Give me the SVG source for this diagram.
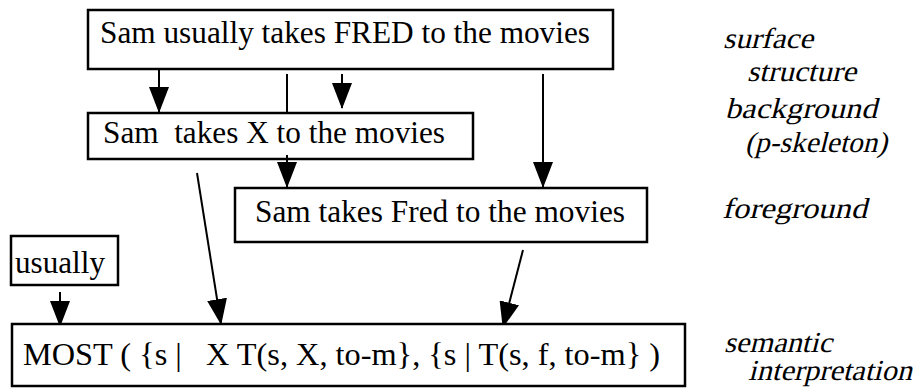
<svg xmlns="http://www.w3.org/2000/svg" width="916" height="390" viewBox="0 0 916 390">
<style>
.box{fill:#fff;stroke:#000;stroke-width:2.5}
.t{font-family:"Liberation Serif","Times New Roman",serif;font-size:31.5px;fill:#000;white-space:pre}
.it{font-family:"Liberation Serif","Times New Roman",serif;font-size:29px;fill:#000;white-space:pre}
.ln{stroke:#000;stroke-width:2;fill:none}
.ar{stroke:#000;stroke-width:2;fill:none;marker-end:url(#ah)}
</style>
<defs>
<marker id="ah" markerUnits="userSpaceOnUse" markerWidth="26" markerHeight="20" viewBox="0 0 26 20" refX="25" refY="10" orient="auto">
<path d="M0,0 L26,10 L0,20 Z" fill="#000"/>
</marker>
</defs>
<g id="connectors">
<line class="ar" x1="159" y1="70" x2="159" y2="112"/>
<line class="ln" x1="287" y1="74" x2="287" y2="118"/>
<line class="ar" x1="342" y1="74" x2="342" y2="108"/>
<line class="ar" x1="543" y1="74" x2="543" y2="187"/>
<line class="ar" x1="197" y1="173" x2="221" y2="324"/>
<line class="ar" x1="523" y1="250" x2="503" y2="327"/>
<line class="ar" x1="60" y1="292" x2="60" y2="326"/>
</g>
<g id="n-surface">
<rect class="box" x="88" y="10" width="525" height="59"/>
<text class="t" x="100" y="43" textLength="490" lengthAdjust="spacingAndGlyphs">Sam usually takes FRED to the movies</text>
</g>
<g id="n-background">
<rect class="box" x="88" y="113" width="385" height="46"/>
<text class="t" x="103" y="143" textLength="342" lengthAdjust="spacingAndGlyphs">Sam  takes X to the movies</text>
</g>
<g id="n-foreground">
<rect class="box" x="235" y="188" width="412" height="54"/>
<text class="t" x="255" y="222" textLength="370" lengthAdjust="spacingAndGlyphs">Sam takes Fred to the movies</text>
</g>
<g id="n-usually">
<rect class="box" x="11" y="236" width="107" height="49"/>
<text class="t" x="15" y="273" textLength="90" lengthAdjust="spacingAndGlyphs">usually</text>
</g>
<g id="n-semantic">
<rect class="box" x="12" y="324" width="673" height="62"/>
<text class="t" x="23" y="365" textLength="637" lengthAdjust="spacingAndGlyphs">MOST ( {s |   X T(s, X, to-m}, {s | T(s, f, to-m} )</text>
</g>
<g id="connectors-over">
<line class="ar" x1="287" y1="155" x2="287" y2="187"/>
</g>
<g id="labels">
<text class="it" transform="translate(723,48) skewX(-14)" textLength="90" lengthAdjust="spacingAndGlyphs">surface</text>
<text class="it" transform="translate(747,81) skewX(-14)" textLength="109" lengthAdjust="spacingAndGlyphs">structure</text>
<text class="it" transform="translate(725,118) skewX(-14)" textLength="152" lengthAdjust="spacingAndGlyphs">background</text>
<text class="it" transform="translate(745,152) skewX(-14)" textLength="142" lengthAdjust="spacingAndGlyphs">(p-skeleton)</text>
<text class="it" transform="translate(722,218) skewX(-14)" textLength="145" lengthAdjust="spacingAndGlyphs">foreground</text>
<text class="it" transform="translate(724,352) skewX(-14)" textLength="108" lengthAdjust="spacingAndGlyphs">semantic</text>
<text class="it" transform="translate(748,380) skewX(-14)" textLength="164" lengthAdjust="spacingAndGlyphs">interpretation</text>
</g>
</svg>
